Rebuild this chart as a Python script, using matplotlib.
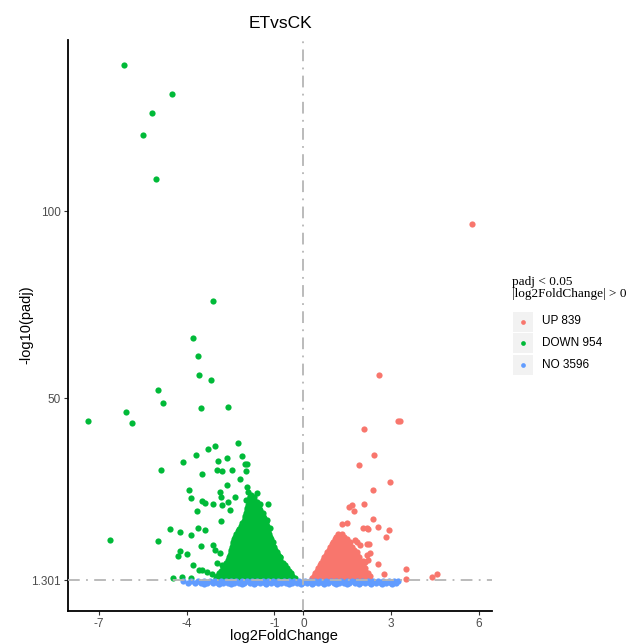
import numpy as np
import matplotlib
matplotlib.use("Agg")
from matplotlib import pyplot as plt
from matplotlib.patches import Rectangle

plt.rcParams['font.family'] = ['Liberation Sans', 'DejaVu Sans']
plt.rcParams['axes.unicode_minus'] = False

# ---- data (x = log2FoldChange, y = -log10(padj)) ----
title = "ETvsCK"
legend_title = "padj < 0.05\n|log2FoldChange| > 0"
groups = ["UP", "DOWN", "NO"]
group_counts = [839, 954, 3596]
group_colors = ["#F8766D", "#00BA38", "#619CFF"]

x_ticks = [-7, -4, -1, 0, 3, 6]
y_ticks = [1.301, 50, 100]
y_tick_labels = ["1.301", "50", "100"]
padj_line = 1.301

# DOWN: scattered genes
down_x = [-6.15, -4.51, -5.20, -5.49, -5.05, -3.09,
          -3.77, -3.62, -3.58, -3.18, -4.99, -4.80, -6.08, -5.88, -7.40, -3.51, -2.58,
          -2.23, -3.03, -3.27, -3.69, -4.14, -4.90, -6.63, -4.99, -4.57, -4.23, -3.86,
          -4.46, -4.17, -3.86, -4.23, -4.29, -3.98, -3.77, -3.59,
          -3.91, -3.85, -3.66, -3.47, -2.95, -2.80, -2.44, -2.61, -2.94, -2.12, -2.00,
          -1.95, -1.97, -2.17, -2.63, -2.86, -2.84, -3.49, -3.37, -3.11, -2.80, -2.57,
          -2.35, -2.84, -2.52, -3.60, -3.37, -3.52, -3.11, -3.03, -2.86, -3.49, -3.32,
          -3.14, -2.97, -2.80, -1.95, -1.89, -1.60, -1.83, -1.98, -1.72, -1.49, -1.21,
          -1.38, -1.26, -1.15, -1.49, -0.80]
down_y = [139.0, 131.3, 126.3, 120.4, 108.5, 76.0,
          66.1, 61.2, 56.1, 54.8, 52.1, 48.7, 46.3, 43.4, 43.9, 47.3, 47.7,
          38.1, 37.2, 36.4, 34.9, 32.9, 30.7, 12.2, 11.7, 15.1, 14.1, 13.5,
          2.0, 2.2, 1.8, 9.2, 7.8, 8.2, 5.3, 4.0,
          25.4, 23.2, 19.7, 29.7, 30.7, 30.6, 30.7, 34.1, 33.2, 34.6, 32.5,
          32.5, 30.6, 28.3, 26.7, 24.9, 23.6, 22.5, 22.0, 21.8, 21.4, 22.3,
          23.6, 17.2, 20.1, 15.2, 14.7, 10.4, 10.7, 9.4, 8.5, 4.0, 3.6,
          3.1, 5.8, 5.3, 26.3, 24.9, 24.7, 23.6, 22.7, 22.3, 21.7, 21.7,
          19.2, 17.4, 15.2, 14.7, 7.6]

# DOWN: dense core, one list of x values per y level
down_core_y = [1.8, 2.5, 3.2, 3.9, 4.6, 5.3, 6.0, 6.7, 7.4, 8.1, 8.8, 9.5, 10.2, 10.9, 11.6,
               12.3, 13.0, 13.7, 14.4, 15.1, 15.8, 16.5, 17.2, 17.9, 18.6, 19.3, 20.0, 20.7,
               21.4, 22.1, 22.8, 23.5, 24.2]
down_core_x = [
    [-3.0, -2.85, -2.7, -2.55, -2.4, -2.25, -2.1, -1.95, -1.8, -1.65, -1.5, -1.35, -1.2, -1.05, -0.9, -0.75, -0.6, -0.45, -0.3],
    [-2.95, -2.8, -2.65, -2.5, -2.35, -2.2, -2.05, -1.9, -1.75, -1.6, -1.45, -1.3, -1.15, -1.0, -0.85, -0.7, -0.55, -0.4],
    [-2.9, -2.75, -2.6, -2.45, -2.3, -2.15, -2.0, -1.85, -1.7, -1.55, -1.4, -1.25, -1.1, -0.95, -0.8, -0.65, -0.5, -0.42],
    [-2.82, -2.67, -2.52, -2.37, -2.22, -2.07, -1.92, -1.77, -1.62, -1.47, -1.32, -1.17, -1.02, -0.87, -0.72, -0.57, -0.48],
    [-2.75, -2.6, -2.45, -2.3, -2.15, -2.0, -1.85, -1.7, -1.55, -1.4, -1.25, -1.1, -0.95, -0.8, -0.65, -0.55],
    [-2.7, -2.55, -2.4, -2.25, -2.1, -1.95, -1.8, -1.65, -1.5, -1.35, -1.2, -1.05, -0.9, -0.75, -0.62],
    [-2.65, -2.5, -2.35, -2.2, -2.05, -1.9, -1.75, -1.6, -1.45, -1.3, -1.15, -1.0, -0.85, -0.7],
    [-2.6, -2.45, -2.3, -2.15, -2.0, -1.85, -1.7, -1.55, -1.4, -1.25, -1.1, -0.95, -0.8],
    [-2.55, -2.4, -2.25, -2.1, -1.95, -1.8, -1.65, -1.5, -1.35, -1.2, -1.05, -0.9, -0.8],
    [-2.52, -2.37, -2.22, -2.07, -1.92, -1.77, -1.62, -1.47, -1.32, -1.17, -1.02, -0.87],
    [-2.5, -2.35, -2.2, -2.05, -1.9, -1.75, -1.6, -1.45, -1.3, -1.15, -1.0, -0.9],
    [-2.47, -2.32, -2.17, -2.02, -1.87, -1.72, -1.57, -1.42, -1.27, -1.12, -0.97],
    [-2.45, -2.3, -2.15, -2.0, -1.85, -1.7, -1.55, -1.4, -1.25, -1.1, -1.0],
    [-2.42, -2.27, -2.12, -1.97, -1.82, -1.67, -1.52, -1.37, -1.22, -1.07],
    [-2.4, -2.25, -2.1, -1.95, -1.8, -1.65, -1.5, -1.35, -1.2, -1.05],
    [-2.37, -2.22, -2.07, -1.92, -1.77, -1.62, -1.47, -1.32, -1.17, -1.1],
    [-2.35, -2.2, -2.05, -1.9, -1.75, -1.6, -1.45, -1.3, -1.15],
    [-2.3, -2.15, -2.0, -1.85, -1.7, -1.55, -1.4, -1.25, -1.17],
    [-2.25, -2.1, -1.95, -1.8, -1.65, -1.5, -1.35, -1.2],
    [-2.2, -2.05, -1.9, -1.75, -1.6, -1.45, -1.3, -1.22],
    [-2.15, -2.0, -1.85, -1.7, -1.55, -1.4, -1.25],
    [-2.1, -1.95, -1.8, -1.65, -1.5, -1.35, -1.28],
    [-2.05, -1.9, -1.75, -1.6, -1.45, -1.3],
    [-2.02, -1.87, -1.72, -1.57, -1.42, -1.35],
    [-2.0, -1.85, -1.7, -1.55, -1.4],
    [-1.97, -1.82, -1.67, -1.52, -1.45],
    [-1.95, -1.8, -1.65, -1.5],
    [-1.92, -1.77, -1.62, -1.52],
    [-1.9, -1.75, -1.6],
    [-1.87, -1.72, -1.6],
    [-1.85, -1.7],
    [-1.82, -1.7],
    [-1.8],
]

# UP: scattered genes
up_x = [5.77, 2.59, 3.23, 3.30, 2.09, 2.40, 1.89, 2.98, 2.39, 1.57, 1.67, 1.74, 2.06,
        2.39, 2.54, 2.93, 2.84, 2.05, 2.16, 1.31, 1.50, 2.56, 2.77, 3.53, 3.53, 4.39,
        4.56, 2.25, 2.28, 2.22, 2.05, 1.76, 2.16, 1.82, 1.93, 2.16, 2.11, 2.20]
up_y = [96.5, 56.1, 43.9, 43.9, 41.8, 34.8, 32.0, 27.5, 25.5, 20.9, 21.4, 19.9, 21.7,
        17.6, 15.6, 14.7, 12.8, 15.2, 15.2, 16.3, 16.5, 5.6, 2.9, 4.2, 1.6, 2.3,
        2.9, 11.1, 8.5, 6.7, 6.5, 12.0, 11.1, 11.6, 10.7, 8.0, 6.2, 14.9]

# UP: dense core
up_core_y = [1.8, 2.5, 3.2, 3.9, 4.6, 5.3, 6.0, 6.7, 7.4, 8.1, 8.8, 9.5, 10.2, 10.9, 11.6,
             12.3, 13.0, 13.7]
up_core_x = [
    [0.3, 0.45, 0.6, 0.75, 0.9, 1.05, 1.2, 1.35, 1.5, 1.65, 1.8, 1.95, 2.1, 2.25],
    [0.37, 0.52, 0.67, 0.82, 0.97, 1.12, 1.27, 1.42, 1.57, 1.72, 1.87, 2.02, 2.17, 2.27],
    [0.4, 0.55, 0.7, 0.85, 1.0, 1.15, 1.3, 1.45, 1.6, 1.75, 1.9, 2.05, 2.2],
    [0.47, 0.62, 0.77, 0.92, 1.07, 1.22, 1.37, 1.52, 1.67, 1.82, 1.97, 2.12],
    [0.5, 0.65, 0.8, 0.95, 1.1, 1.25, 1.4, 1.55, 1.7, 1.85, 2.0, 2.1],
    [0.57, 0.72, 0.87, 1.02, 1.17, 1.32, 1.47, 1.62, 1.77, 1.92, 2.05],
    [0.6, 0.75, 0.9, 1.05, 1.2, 1.35, 1.5, 1.65, 1.8, 1.95],
    [0.67, 0.82, 0.97, 1.12, 1.27, 1.42, 1.57, 1.72, 1.87],
    [0.7, 0.85, 1.0, 1.15, 1.3, 1.45, 1.6, 1.75, 1.9],
    [0.77, 0.92, 1.07, 1.22, 1.37, 1.52, 1.67, 1.82],
    [0.8, 0.95, 1.1, 1.25, 1.4, 1.55, 1.7, 1.85],
    [0.87, 1.02, 1.17, 1.32, 1.47, 1.62, 1.72],
    [0.9, 1.05, 1.2, 1.35, 1.5, 1.65],
    [0.97, 1.12, 1.27, 1.42, 1.57],
    [1.0, 1.15, 1.3, 1.45, 1.6],
    [1.07, 1.22, 1.37, 1.5],
    [1.1, 1.25, 1.4],
    [1.17, 1.32],
]

# NO: the band just under the padj line
no_rows_y = [1.05, 0.45, 0.2]
no_rows_x = [
    [-4.12, -3.85, -3.62, -3.40, -3.20, -3.02, -2.84, -2.66, -2.48, -2.30, -2.12, -1.94, -1.76, -1.58,
     -1.40, -1.22, -1.04, -0.86, -0.68, -0.50, -0.32, -0.14, 0.04, 0.22, 0.40, 0.58, 0.76, 0.94, 1.12,
     1.30, 1.48, 1.66, 1.84, 2.02, 2.20, 2.38, 2.56, 2.74, 2.92, 3.10, 3.24],
    [-3.95, -3.72, -3.50, -3.30, -3.11, -2.93, -2.75, -2.57, -2.39, -2.21, -2.03, -1.85, -1.67, -1.49,
     -1.31, -1.13, -0.95, -0.77, -0.59, -0.41, -0.23, -0.05, 0.13, 0.31, 0.49, 0.67, 0.85, 1.03, 1.21,
     1.39, 1.57, 1.75, 1.93, 2.11, 2.29, 2.47, 2.65, 2.83, 3.01, 3.18],
    [-3.4, -2.9, -2.5, -2.1, -1.7, -1.3, -0.9, -0.5, -0.1, 0.3, 0.7, 1.1, 1.5, 1.9, 2.3, 2.7, 3.05],
]


def flatten(rows_y, rows_x):
    xs = np.concatenate([np.array(r, dtype=float) for r in rows_x])
    ys = np.concatenate([np.full(len(r), yv) for yv, r in zip(rows_y, rows_x)])
    return xs, ys


dx, dy = flatten(down_core_y, down_core_x)
down_all_x = np.concatenate([dx, down_x])
down_all_y = np.concatenate([dy, down_y])

ux, uy = flatten(up_core_y, up_core_x)
up_all_x = np.concatenate([ux, up_x])
up_all_y = np.concatenate([uy, up_y])

no_all_x, no_all_y = flatten(no_rows_y, no_rows_x)

# ---- figure, pixel based layout ----
W, H = 636, 644
fig = plt.figure(figsize=(W / 100, H / 100), dpi=100)


def fx(px):
    return px / W


def fy(py):
    return 1 - py / H


ax = fig.add_axes([fx(68), fy(611), fx(492) - fx(68), fy(40) - fy(611)])

pt_size = 20
ax.scatter(down_all_x, down_all_y, s=pt_size, c=group_colors[1], linewidths=0, zorder=2)
ax.scatter(up_all_x, up_all_y, s=pt_size, c=group_colors[0], linewidths=0, zorder=2)
ax.scatter(no_all_x, no_all_y, s=pt_size, c=group_colors[2], linewidths=0, zorder=2)

line_style = dict(color="#b5b5b5", lw=1.3, dashes=(6.5, 3.5, 1, 3.5), zorder=3)
ax.axhline(padj_line, **line_style)
ax.axvline(0, **line_style)

ax.set_xlim(-8.07, 6.46)
ax.set_ylim(-6.9, 145.7)
ax.set_xticks(x_ticks)
ax.set_yticks(y_ticks)
ax.set_yticklabels(y_tick_labels)

for side in ["top", "right"]:
    ax.spines[side].set_visible(False)
for side in ["left", "bottom"]:
    ax.spines[side].set_linewidth(1.3)
    ax.spines[side].set_color("black")
ax.tick_params(length=3, width=0.8, color="#333333", labelcolor="#4D4D4D",
               labelsize=8.5, pad=2)

fig.text(fx(280), fy(23), title, ha="center", va="center", fontsize=12.5)
fig.text(fx(284), fy(636), "log2FoldChange", ha="center", va="center", fontsize=10.5)
fig.text(fx(26), fy(325), "-log10(padj)", ha="center", va="center", rotation=90, fontsize=10.5)

# ---- legend drawn by hand: grey key boxes like ggplot ----
fig.text(fx(512), fy(288), legend_title, ha="left", va="center", fontsize=9.5,
         family=["Liberation Serif", "DejaVu Serif"], linespacing=0.95)
key_centers = [321.5, 343, 364.5]
for name, n, col, yc in zip(groups, group_counts, group_colors, key_centers):
    fig.add_artist(Rectangle((fx(513), fy(yc + 10)), fx(20), 20 / H,
                             transform=fig.transFigure, facecolor="#F2F2F2",
                             edgecolor="none"))
    fig.add_artist(plt.Line2D([fx(523)], [fy(yc)], marker="o", markersize=3.4,
                              color=col, markeredgewidth=0, transform=fig.transFigure))
    fig.text(fx(542), fy(yc), f"{name} {n}", ha="left", va="center", fontsize=8.5)

fig.savefig("out.png", dpi=100)
